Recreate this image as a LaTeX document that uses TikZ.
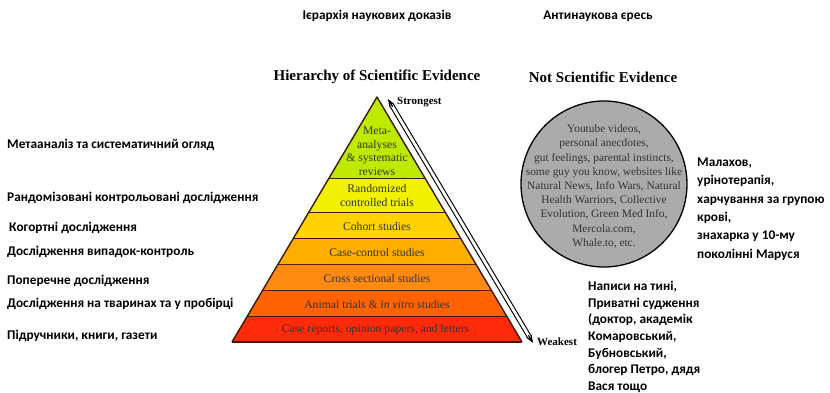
\documentclass[tikz,border=0pt]{standalone}
\usepackage{fontspec}
\setmainfont{Liberation Serif}
\newfontfamily\uafont{Carlito}
\usetikzlibrary{arrows.meta, calc}

\definecolor{tierA}{HTML}{BFEA00}
\definecolor{tierB}{HTML}{F2F200}
\definecolor{tierC}{HTML}{FFD200}
\definecolor{tierD}{HTML}{FFAE00}
\definecolor{tierE}{HTML}{FF8A12}
\definecolor{tierF}{HTML}{FF6200}
\definecolor{tierG}{HTML}{FF2A0A}
\definecolor{tierEdge}{HTML}{3A1A08}

\tikzset{
  uatext/.style={font=\uafont\bfseries\fontsize{13.3}{18.3}\selectfont, align=left, inner sep=0pt},
  entitle/.style={font=\bfseries\fontsize{15}{17}\selectfont, inner sep=0pt},
  tierlabel/.style={font=\fontsize{11.7}{13.5}\selectfont, text=black!80, align=center, inner sep=0pt},
  tierline/.style={draw=tierEdge, line width=1.4pt, line join=round},
  rankword/.style={font=\bfseries\fontsize{11}{13}\selectfont, anchor=west, inner sep=0pt}
}

\begin{document}
\begin{tikzpicture}[x=1pt, y=-1pt, >=Stealth]
\useasboundingbox (0,0) rectangle (830,393);

% titles
\node[uatext] (uaHier) at (377,16) {Ієрархія наукових доказів};
\node[uatext] (uaAnti) at (598,16) {Антинаукова єресь};
\node[entitle] (enHier) at (377,77) {Hierarchy of Scientific Evidence};
\node[entitle] (enNot) at (603,77) {Not Scientific Evidence};

% pyramid
\coordinate (apex) at (377,97);
\coordinate (baseL) at (232,342);
\coordinate (baseR) at (522,342);

\foreach \idx/\ft/\fb/\col/\ym/\lab in {
  1/0/0.3347/tierA/151/{Meta-\\analyses\\\& systematic\\reviews},
  2/0.3347/0.4735/tierB/195.5/{Randomized\\controlled trials},
  3/0.4735/0.5796/tierC/226/{Cohort studies},
  4/0.5796/0.6857/tierD/252/{Case-control studies},
  5/0.6857/0.7918/tierE/278/{Cross sectional studies},
  6/0.7918/0.8980/tierF/304/{Animal trials \& \textit{in vitro} studies},
  7/0.8980/1/tierG/329.5/{Case reports, opinion papers, and letters}
}{
  \fill[\col] ($(apex)!\ft!(baseL)$) -- ($(apex)!\fb!(baseL)$)
    -- ($(apex)!\fb!(baseR)$) -- ($(apex)!\ft!(baseR)$) -- cycle;
  \draw[tierline] ($(apex)!\fb!(baseL)$) -- ($(apex)!\fb!(baseR)$);
  \node[tierlabel] (T\idx) at (377,\ym) {\lab};
}
\draw[tierline] (baseL) -- (apex) -- (baseR);

% strength arrow
\coordinate (strong) at (388,99);
\coordinate (weak) at (533,343);
\draw[double, double distance=2.8pt, line width=1.1pt, shorten <=7pt, shorten >=7pt] (strong) -- (weak);
\draw[->, line width=1.1pt] ($(strong)!9pt!(weak)$) -- (strong);
\draw[->, line width=1.1pt] ($(weak)!9pt!(strong)$) -- (weak);
\node[rankword] (strongest) at (397,102) {Strongest};
\node[rankword] (weakest) at (537,342) {Weakest};

% not scientific
\node[circle, draw, line width=1.3pt, fill=black!33, minimum size=166pt, inner sep=0pt] (fringe) at (604,184) {};
\node[font=\fontsize{11.4}{14.2}\selectfont, text=black!80, align=center, inner sep=0pt] (fringeText) at (604,186.5)
  {Youtube videos,\\personal anecdotes,\\gut feelings, parental instincts,\\some guy you know, websites like\\Natural News, Info Wars, Natural\\Health Warriors, Collective\\Evolution, Green Med Info,\\Mercola.com,\\Whale.to, etc.};

% ukrainian side notes
\node[uatext, anchor=west] (uaMeta) at (7,145) {Метааналіз та систематичний огляд};
\node[uatext, anchor=west] (uaRand) at (7,198) {Рандомізовані контрольовані дослідження};
\node[uatext, anchor=west] (uaCoh) at (9,228) {Когортні дослідження};
\node[uatext, anchor=west] (uaCase) at (7,252) {Дослідження випадок-контроль};
\node[uatext, anchor=west] (uaCross) at (7,281) {Поперечне дослідження};
\node[uatext, anchor=west] (uaAnim) at (7,304) {Дослідження на тваринах та у пробірці};
\node[uatext, anchor=west] (uaBook) at (7,336) {Підручники, книги, газети};

\node[uatext, anchor=west] (uaQuack) at (697,209)
  {Малахов,\\урінотерапія,\\харчування за групою\\крові,\\знахарка у 10-му\\поколінні Маруся};
\node[uatext, anchor=west, font=\uafont\bfseries\fontsize{13.3}{16.7}\selectfont] (uaGossip) at (588,337)
  {Написи на тині,\\Приватні судження\\(доктор, академік\\Комаровський,\\Бубновський,\\блогер Петро, дядя\\Вася тощо};

\end{tikzpicture}
\end{document}
